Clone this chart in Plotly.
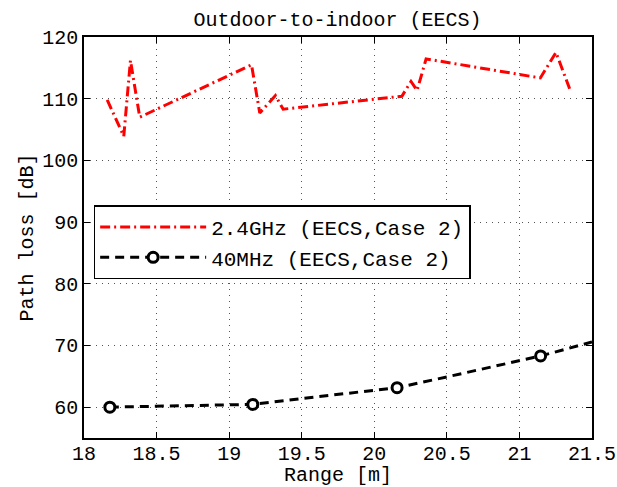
import plotly.graph_objects as go

# Red series: 2.4GHz (EECS, Case 2)
x_24 = [18.16, 18.274, 18.32, 18.384, 19.154, 19.211, 19.319, 19.372, 20.19, 20.253, 20.295, 20.357, 21.144, 21.252, 21.346]
y_24 = [109.8, 103.9, 116.2, 107.0, 115.5, 107.7, 110.5, 108.3, 110.4, 112.8, 111.35, 116.45, 113.36, 117.5, 111.6]

# Black series: 40MHz (EECS, Case 2) - line samples
x_40 = [18.178, 18.6, 19.163, 19.5, 19.8, 20.157, 20.5, 20.8, 21.146, 21.5]
y_40 = [60.0, 60.2, 60.45, 61.4, 62.2, 63.15, 64.9, 66.5, 68.3, 70.56]
# marker positions (subset)
x_40m = [18.178, 19.163, 20.157, 21.146]
y_40m = [60.0, 60.45, 63.15, 68.3]

x_ticks = [18, 18.5, 19, 19.5, 20, 20.5, 21, 21.5]
x_ticklabels = ["18", "18.5", "19", "19.5", "20", "20.5", "21", "21.5"]
y_ticks = [60, 70, 80, 90, 100, 110, 120]

FONT = "Liberation Mono"

fig = go.Figure()
fig.add_trace(go.Scatter(
    x=x_24, y=y_24, mode="lines", name="2.4GHz (EECS,Case 2)",
    line=dict(color="#ff0000", width=3, dash="10px,4px,2px,4px"),
))
fig.add_trace(go.Scatter(
    x=x_40, y=y_40, mode="lines", showlegend=False,
    line=dict(color="black", width=3, dash="9px,6px"),
))
fig.add_trace(go.Scatter(
    x=x_40m, y=y_40m, mode="markers", showlegend=False,
    marker=dict(symbol="circle", size=10, color="white", line=dict(color="black", width=3)),
))
fig.add_trace(go.Scatter(
    x=[None], y=[None], mode="lines+markers", name="40MHz (EECS,Case 2)",
    line=dict(color="black", width=3, dash="9px,6px"),
    marker=dict(symbol="circle", size=10, color="white", line=dict(color="black", width=3)),
))

axis_common = dict(
    showline=True, linecolor="black", linewidth=1.5, mirror="ticks",
    ticks="inside", ticklen=6, tickcolor="black", tickwidth=1,
    showgrid=True, gridcolor="#555555", gridwidth=1, griddash="1px,5px",
    zeroline=False, tickfont=dict(family=FONT, size=20, color="black"),
)

fig.update_xaxes(
    range=[18, 21.5], tickvals=x_ticks, ticktext=x_ticklabels, ticklabelstandoff=-4,
    title=dict(text="Range [m]", font=dict(family=FONT, size=20, color="black"), standoff=0),
    **axis_common,
)
fig.update_yaxes(
    range=[55, 120], tickvals=y_ticks,
    title=dict(text="Path loss [dB]", font=dict(family=FONT, size=20, color="black"), standoff=3),
    **axis_common,
)

fig.update_layout(
    width=617, height=487,
    margin=dict(l=84, r=25, t=37, b=49, autoexpand=False),
    paper_bgcolor="white", plot_bgcolor="white",
    title=dict(text="Outdoor-to-indoor (EECS)", font=dict(family=FONT, size=20, color="black"),
               x=0.547, xanchor="center", y=1 - 19 / 487, yanchor="middle", yref="container"),
    legend=dict(
        x=0.019, y=0.58, xanchor="left", yanchor="top",
        bgcolor="white", bordercolor="black", borderwidth=1.5,
        font=dict(family=FONT, size=21, color="black"),
        itemwidth=106, tracegroupgap=0,
    ),
    showlegend=True,
)

fig.write_html("out.html")
